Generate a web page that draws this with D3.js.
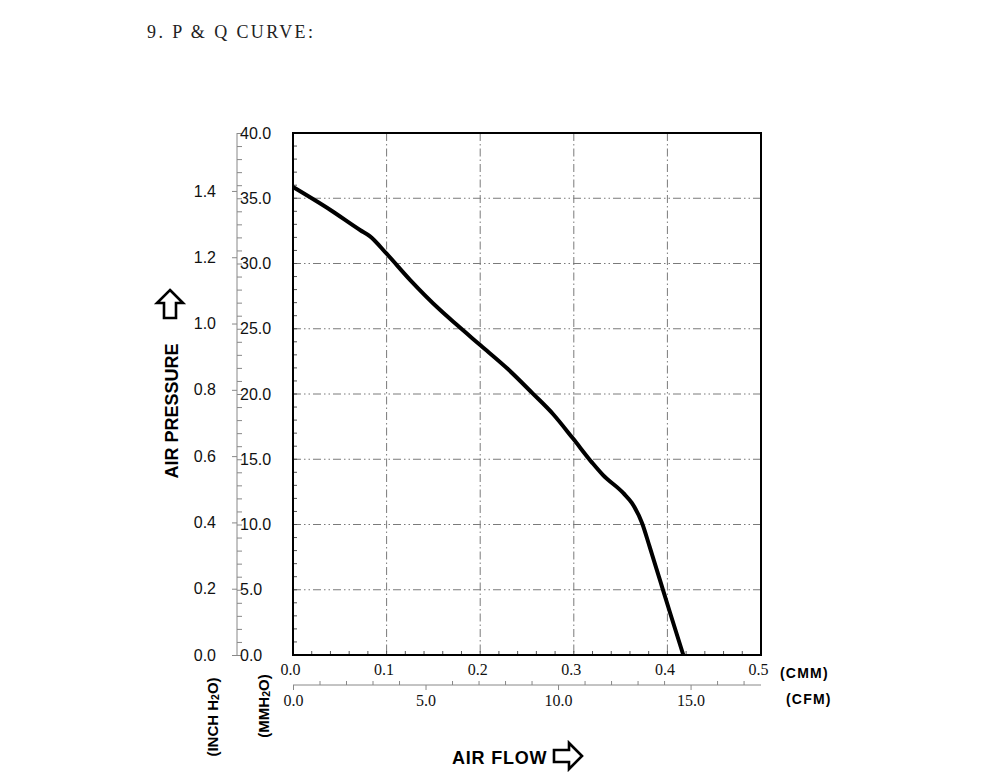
<!DOCTYPE html>
<html><head><meta charset="utf-8">
<script src="https://cdn.jsdelivr.net/npm/d3@7"></script>
<style>body{margin:0;background:#fff}svg{display:block}</style>
</head><body>
<svg id="c" width="1000" height="780"></svg>
<script>
// Data: air flow (CMM) vs static pressure (mmH2O)
const flowCMM  = [0, 0.040, 0.072, 0.082, 0.100, 0.125, 0.157, 0.175, 0.200, 0.229, 0.256, 0.278, 0.299, 0.320, 0.331, 0.353, 0.362, 0.373, 0.381, 0.392, 0.403, 0.417];
const pressMM  = [35.86, 34.1, 32.55, 32.1, 30.75, 28.75, 26.45, 25.3, 23.75, 21.95, 20.05, 18.45, 16.6, 14.7, 13.8, 12.4, 11.65, 10.1, 8.3, 5.75, 3.2, 0];
const mmTicks   = [0, 5, 10, 15, 20, 25, 30, 35, 40];
const inchTicks = [0, 0.2, 0.4, 0.6, 0.8, 1.0, 1.2, 1.4];
const cmmTicks  = [0, 0.1, 0.2, 0.3, 0.4, 0.5];
const cfmTicks  = [0, 5, 10, 15];
const MM_PER_INCH = 25.4, CFM_PER_CMM = 35.3147;

const svg = d3.select("#c");
const L = 293, R = 761, T = 133, B = 655;
const x = d3.scaleLinear([0, 0.5], [L, R]);
const y = d3.scaleLinear([0, 40], [B, T]);
const yIn = d3.scaleLinear([0, 40 / MM_PER_INCH], [B, T]);
const xCfm = d3.scaleLinear([0, 0.5 * CFM_PER_CMM], [L, R]);
const sans = "Liberation Sans, Arial, sans-serif";
const serif = "Liberation Serif, Times New Roman, serif";

// Title
svg.append("text").attr("x", 147).attr("y", 38).attr("font-family", serif)
  .attr("font-size", 18).attr("letter-spacing", 2.4).attr("fill", "#222").text("9. P & Q CURVE:");

// Grid
const g = svg.append("g");
g.selectAll(".vg").data(cmmTicks.slice(1, -1)).join("line")
  .attr("x1", d => x(d)).attr("x2", d => x(d)).attr("y1", T).attr("y2", B)
  .attr("stroke", "#7a7a7a").attr("stroke-width", 1).attr("stroke-dasharray", "8,3,1.5,3");
g.selectAll(".hg").data(mmTicks.slice(1, -1)).join("line")
  .attr("x1", L).attr("x2", R).attr("y1", d => y(d)).attr("y2", d => y(d))
  .attr("stroke", "#7a7a7a").attr("stroke-width", 1).attr("stroke-dasharray", "8,3,1.5,3,1.5,3");

// Inner minor ticks
g.selectAll(".lt").data(d3.range(1, 40)).join("line")
  .attr("x1", L).attr("x2", L + 4).attr("y1", d => y(d)).attr("y2", d => y(d))
  .attr("stroke", "#555").attr("stroke-width", 1);
g.selectAll(".bt").data(d3.range(1, 25).map(i => i * 0.02)).join("line")
  .attr("x1", d => x(d)).attr("x2", d => x(d)).attr("y1", B).attr("y2", B - 4)
  .attr("stroke", "#555").attr("stroke-width", 1);

// Frame
svg.append("rect").attr("x", L).attr("y", T).attr("width", R - L).attr("height", B - T)
  .attr("fill", "none").attr("stroke", "#000").attr("stroke-width", 2);

// Curve
const line = d3.line().x(d => x(d[0])).y(d => y(d[1])).curve(d3.curveMonotoneX);
svg.append("path").datum(flowCMM.map((f, i) => [f, pressMM[i]]))
  .attr("d", line).attr("fill", "none").attr("stroke", "#000").attr("stroke-width", 4)
  .attr("stroke-linejoin", "round");

// Left combined axis (inch + mm)
const AX = 237;
const axG = svg.append("g").attr("transform", `translate(${AX},0)`);
const inAxis = axG.append("g").call(d3.axisLeft(yIn).tickValues(inchTicks).tickSize(5).tickPadding(16).tickFormat(d3.format(".1f")));
const mmAxis = axG.append("g").call(d3.axisRight(y).tickValues(d3.range(0, 41, 1)).tickSize(5).tickPadding(-2)
  .tickFormat(d => d % 5 === 0 ? d3.format(".1f")(d) : ""));
[inAxis, mmAxis].forEach(a => {
  a.select(".domain").attr("stroke", "#888");
  a.selectAll(".tick line").attr("stroke", "#888");
  a.selectAll("text").attr("font-family", sans).attr("font-size", 16).attr("fill", "#111");
});
mmAxis.select(".domain").attr("d", `M0,${T}V${B}`);
inAxis.select(".domain").remove();

// Bottom CMM labels
const cmmAxis = svg.append("g").attr("transform", `translate(0,${B})`)
  .call(d3.axisBottom(x).tickValues(cmmTicks).tickSize(0).tickPadding(9).tickFormat(d3.format(".1f")));
cmmAxis.select(".domain").remove();
cmmAxis.selectAll("text").attr("font-family", serif).attr("font-size", 16).attr("fill", "#111").attr("dx", -3);

// CFM axis
const CY = 685;
const cfmG = svg.append("g").attr("transform", `translate(0,${CY})`);
const cfmAxis = cfmG.append("g").call(d3.axisBottom(xCfm).tickValues(cfmTicks).tickSize(5).tickPadding(5).tickFormat(d3.format(".1f")));
cfmAxis.select(".domain").attr("d", `M${L},0H${R}`).attr("stroke", "#888");
cfmAxis.selectAll(".tick line").attr("stroke", "#888");
cfmAxis.selectAll("text").attr("font-family", serif).attr("font-size", 16).attr("fill", "#111");
cfmG.append("g").call(d3.axisTop(xCfm).tickValues(d3.range(1, 18).filter(v => v % 5 !== 0)).tickSize(4).tickFormat(""))
  .call(a => { a.select(".domain").remove(); a.selectAll(".tick line").attr("stroke", "#888"); });

// Unit labels
svg.append("text").attr("x", 780).attr("y", 678).attr("font-family", sans).attr("font-weight", "bold")
  .attr("font-size", 14).attr("letter-spacing", 1.2).text("(CMM)");
svg.append("text").attr("x", 786).attr("y", 704).attr("font-family", sans).attr("font-weight", "bold")
  .attr("font-size", 14).attr("letter-spacing", 1.2).text("(CFM)");

function vlabel(cx, cy, parts, size) {
  const t = svg.append("text").attr("transform", `translate(${cx},${cy}) rotate(-90)`)
    .attr("text-anchor", "middle").attr("dominant-baseline", "central")
    .attr("font-family", sans).attr("font-weight", "bold").attr("font-size", size);
  parts.forEach(p => {
    const s = t.append("tspan").text(p.t);
    if (p.sub) s.attr("font-size", size * 0.7).attr("dy", 3); 
    if (p.back) s.attr("dy", -3);
  });
  return t;
}
vlabel(212, 717, [{t: "(INCH H"}, {t: "2", sub: true}, {t: "O)", back: true}], 15);
vlabel(263, 706, [{t: "(MMH"}, {t: "2", sub: true}, {t: "O)", back: true}], 15);
vlabel(172, 411, [{t: "AIR PRESSURE"}], 18);

svg.append("text").attr("x", 452).attr("y", 764).attr("font-family", sans).attr("font-weight", "bold")
  .attr("font-size", 18).attr("letter-spacing", 0.8).text("AIR FLOW");

// Outline arrows
const up = [[170, 290], [183, 303], [176, 303], [176, 318], [164, 318], [164, 303], [157, 303]];
svg.append("path").attr("d", d3.line()(up) + "Z").attr("fill", "#fff").attr("stroke", "#000").attr("stroke-width", 2.6).attr("stroke-linejoin", "miter");
const rt = [[582, 756], [569, 743], [569, 750], [554, 750], [554, 762], [569, 762], [569, 769]];
svg.append("path").attr("d", d3.line()(rt) + "Z").attr("fill", "#fff").attr("stroke", "#000").attr("stroke-width", 2.6).attr("stroke-linejoin", "miter");
</script>
</body></html>
